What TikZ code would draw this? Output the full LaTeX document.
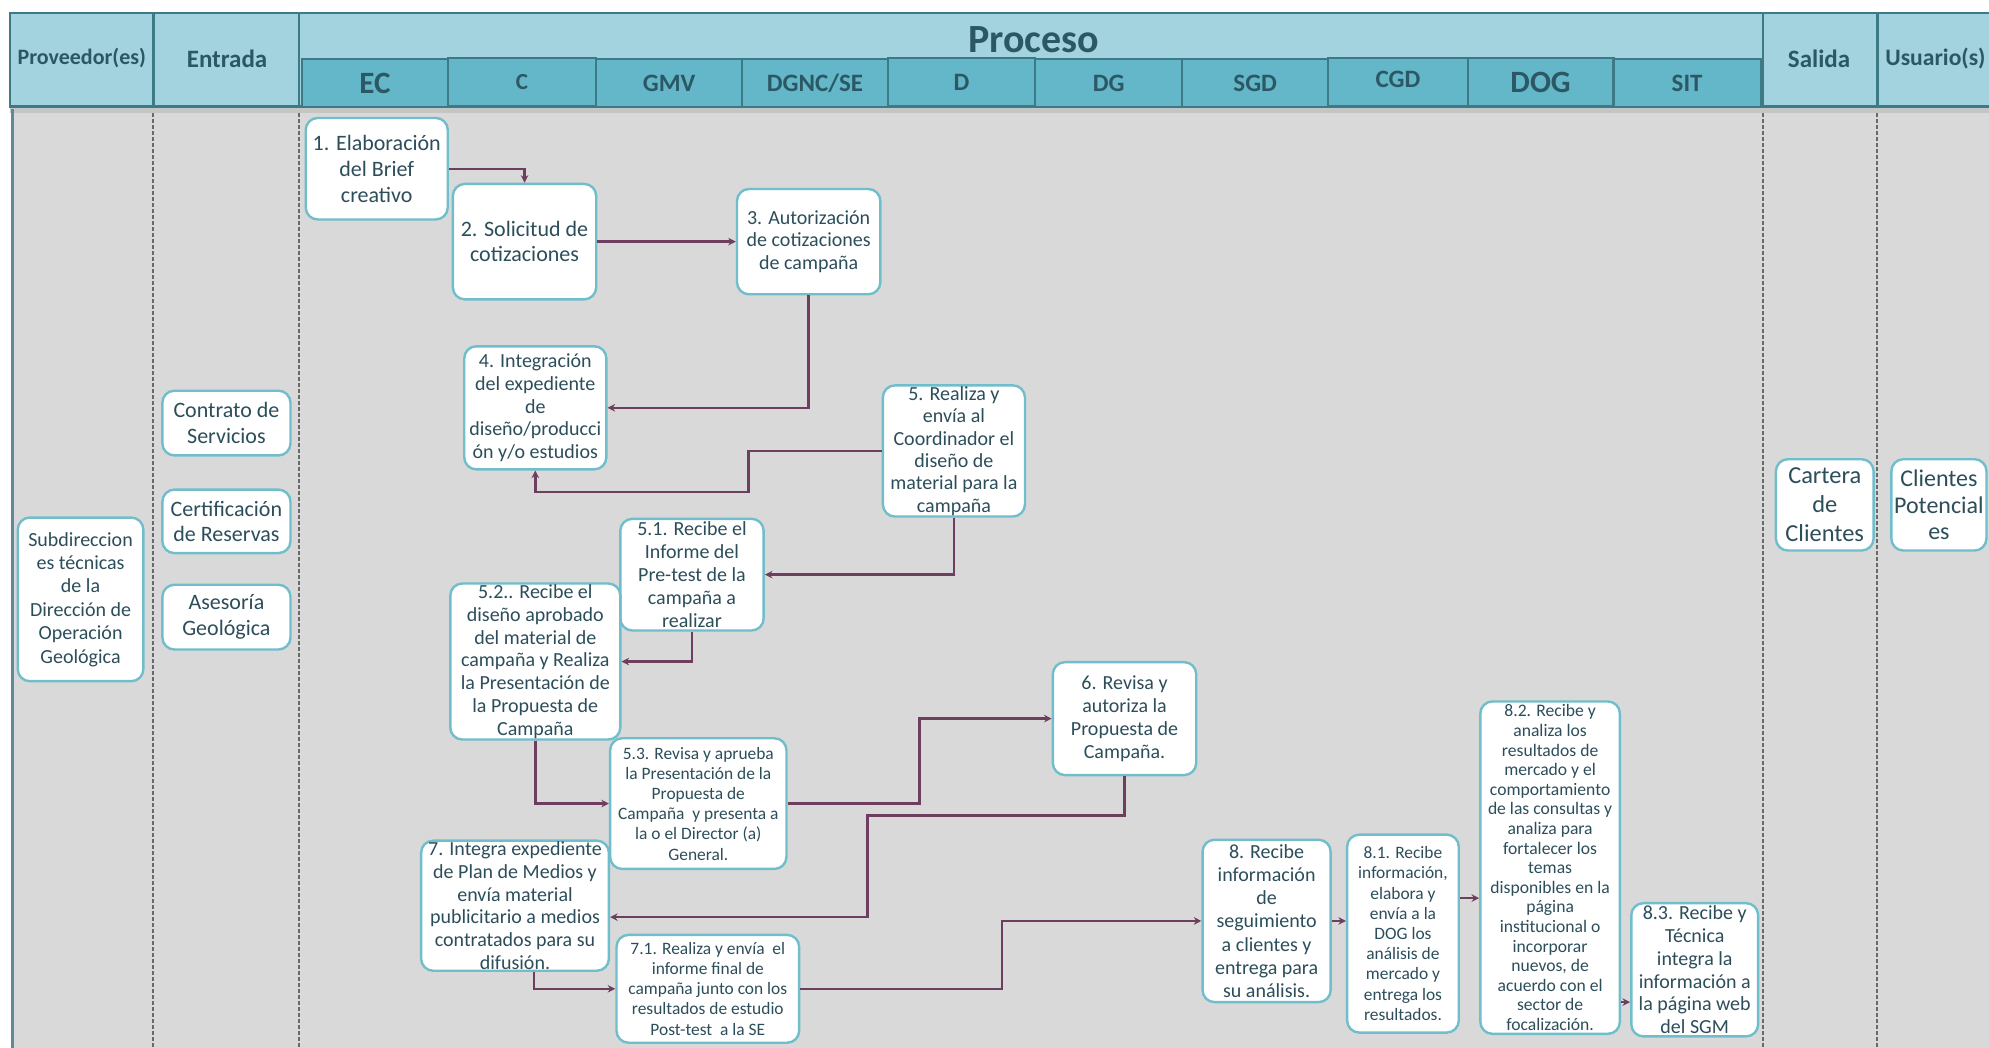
\documentclass[tikz,border=0pt]{standalone}
\usepackage{fontspec}
\setmainfont{Carlito}
\usetikzlibrary{arrows.meta,calc}
\definecolor{hdrlight}{RGB}{162,211,222}
\definecolor{hdrlane}{RGB}{99,183,200}
\definecolor{hdrline}{RGB}{62,122,134}
\definecolor{hdrtext}{RGB}{43,88,100}
\definecolor{bodygray}{RGB}{217,217,217}
\definecolor{shadowgray}{RGB}{196,198,198}
\definecolor{boxline}{RGB}{112,190,204}
\definecolor{boxtext}{RGB}{44,78,90}
\definecolor{connc}{RGB}{110,62,94}
\definecolor{dashc}{RGB}{105,105,105}
\definecolor{leftline}{RGB}{98,138,148}
\newcommand\su{0.63425pt}
\begin{document}
\begin{tikzpicture}[x=0.63425pt,y=-0.63425pt,
  hdrcell/.style={draw=hdrline, fill=hdrlight, line width=1.1pt, inner sep=0pt},
  lanecell/.style={draw=hdrline, fill=hdrlane, line width=1.1pt, inner sep=0pt, minimum height={38*\su}},
  hdrlbl/.style={text=hdrtext, font=\fontsize{11}{13}\selectfont\bfseries, inner sep=0pt},
  lanelbl/.style={text=hdrtext, font=\fontsize{12.5}{14}\selectfont\bfseries, inner sep=0pt},
  lanebig/.style={text=hdrtext, font=\fontsize{15.5}{17}\selectfont\bfseries, inner sep=0pt},
  stepbox/.style={draw=boxline, line width=1.2pt, fill=white, rounded corners=6pt, align=center,
    text=boxtext, inner xsep=1pt, inner ysep=0.5pt, font=\fontsize{10}{11.4}\selectfont},
  bigbox/.style={stepbox, font=\fontsize{11}{13.1}\selectfont},
  smallbox/.style={stepbox, font=\fontsize{8.7}{10.1}\selectfont},
  tinybox/.style={stepbox, font=\fontsize{8.8}{9.8}\selectfont},
  divider/.style={draw=dashc, line width=1pt, dash pattern=on 2pt off 1pt},
  conn/.style={draw=connc, line width=1.2pt, -{Stealth[length=3.8pt,width=3.8pt]}}
]
\useasboundingbox (0,0) rectangle (1568,826);
\clip (0,0) rectangle (1568,826);

% body
\fill[bodygray] (10,86) rectangle (1580,840);
\fill[shadowgray] (8,84) rectangle (1580,89);
\draw[leftline, line width=1.2pt] (10,86) -- (10,840);
\coordinate (d1t) at (121,89); \coordinate (d1b) at (121,840);
\coordinate (d2t) at (236,89); \coordinate (d2b) at (236,840);
\coordinate (d3t) at (1390,89); \coordinate (d3b) at (1390,840);
\coordinate (d4t) at (1480,89); \coordinate (d4b) at (1480,840);
\draw[divider] (d1t) -- (d1b);
\draw[divider] (d2t) -- (d2b);
\draw[divider] (d3t) -- (d3b);
\draw[divider] (d4t) -- (d4b);

% header
\node[hdrcell, minimum width={113*\su}, minimum height={74*\su}] (hprov) at (64.5,47) {};
\node[hdrcell, minimum width={115*\su}, minimum height={74*\su}] (hent) at (178.5,47) {};
\node[hdrcell, minimum width={1154*\su}, minimum height={74*\su}] (hproc) at (813,47) {};
\node[hdrcell, minimum width={90*\su}, minimum height={74*\su}] (hsal) at (1435,47) {};
\node[hdrcell, minimum width={110*\su}, minimum height={74*\su}] (husu) at (1535,47) {};
\node[hdrlbl] (tprov) at (64.5,46) {Proveedor(es)};
\node[hdrlbl, font=\fontsize{12.5}{14}\selectfont\bfseries] (tent) at (179,46) {Entrada};
\node[hdrlbl, font=\fontsize{20}{22}\selectfont\bfseries] (tproc) at (815,31) {Proceso};
\node[hdrlbl, font=\fontsize{12.5}{14}\selectfont\bfseries] (tsal) at (1434,46) {Salida};
\node[hdrlbl, font=\fontsize{11.8}{14}\selectfont\bfseries, anchor=west] (tusu) at (1486,46) {Usuario(s)};

\node[lanecell, minimum width={115*\su}] (lec) at (295.5,65.5) {};
\node[lanecell, minimum width={117*\su}] (lc) at (411.5,65) {};
\node[lanecell, minimum width={115*\su}] (lgmv) at (527.5,65.5) {};
\node[lanecell, minimum width={115*\su}] (ldgnc) at (642.5,65.5) {};
\node[lanecell, minimum width={116*\su}] (ld) at (758,65) {};
\node[lanecell, minimum width={116*\su}] (ldg) at (874,65.5) {};
\node[lanecell, minimum width={115*\su}] (lsgd) at (989.5,65.5) {};
\node[lanecell, minimum width={110*\su}] (lcgd) at (1102,64.5) {};
\node[lanecell, minimum width={115*\su}] (ldog) at (1214.5,65) {};
\node[lanecell, minimum width={116*\su}] (lsit) at (1330,65.5) {};
\node[lanebig] at (lec) {EC};
\node[lanelbl, font=\fontsize{11.5}{13}\selectfont\bfseries] at (lc) {C};
\node[lanelbl] at (lgmv) {GMV};
\node[lanelbl] at (ldgnc) {DGNC/SE};
\node[lanelbl] at (ld) {D};
\node[lanelbl] at (ldg) {DG};
\node[lanelbl] at (lsgd) {SGD};
\node[lanelbl, yshift=1pt] at (lcgd) {CGD};
\node[lanebig] at (ldog) {DOG};
\node[lanelbl] at (lsit) {SIT};

% proveedor / entrada / salida / usuario
\node[stepbox, minimum width={99*\su}, minimum height={129*\su}, font=\fontsize{10}{11.7}\selectfont] (prov) at (63.5,472.5)
  {Subdireccion\\es técnicas\\de la\\Dirección de\\Operación\\Geológica};
\node[stepbox, minimum width={101*\su}, minimum height={51*\su}, font=\fontsize{11}{12.8}\selectfont] (e1) at (178.5,333.5) {Contrato de\\Servicios};
\node[stepbox, minimum width={101*\su}, minimum height={50*\su}, font=\fontsize{11}{12.8}\selectfont] (e2) at (178.5,411) {Certificación\\de Reservas};
\node[stepbox, minimum width={101*\su}, minimum height={51*\su}, font=\fontsize{11}{12.8}\selectfont] (e3) at (178.5,486.5) {Asesoría\\Geológica};
\node[stepbox, minimum width={77*\su}, minimum height={72*\su}, font=\fontsize{12.2}{14.4}\selectfont] (sal) at (1438.5,398) {Cartera\\de\\Clientes};
\node[stepbox, minimum width={75*\su}, minimum height={72*\su}, font=\fontsize{12}{13.4}\selectfont] (usu) at (1528.5,398) {Clientes\\Potencial\\es};

% process steps
\node[bigbox, minimum width={112*\su}, minimum height={80*\su}] (n1) at (297,133) {1. Elaboración\\del Brief\\creativo};
\node[bigbox, minimum width={113*\su}, minimum height={91*\su}, font=\fontsize{11}{12.7}\selectfont] (n2) at (413.5,190.5) {2. Solicitud de\\cotizaciones};
\node[stepbox, minimum width={113*\su}, minimum height={83*\su}] (n3) at (637.5,190.5) {3. Autorización\\de cotizaciones\\de campaña};
\node[stepbox, minimum width={112*\su}, minimum height={97*\su}] (n4) at (422,321.5) {4. Integración\\del expediente\\de\\diseño/producci\\ón y/o estudios};
\node[stepbox, minimum width={112*\su}, minimum height={103*\su}, font=\fontsize{10}{11.2}\selectfont] (n5) at (752,355.5) {5. Realiza y\\envía al\\Coordinador el\\diseño de\\material para la\\campaña};
\node[stepbox, minimum width={113*\su}, minimum height={88*\su}] (n51) at (545.5,453) {5.1. Recibe el\\Informe del\\Pre-test de la\\campaña a\\realizar};
\node[stepbox, minimum width={134*\su}, minimum height={123*\su}] (n52) at (422,521.5) {5.2.. Recibe el\\diseño aprobado\\del material de\\campaña y Realiza\\la Presentación de\\la Propuesta de\\Campaña};
\node[smallbox, minimum width={139*\su}, minimum height={103*\su}] (n53) at (550.5,633.5) {5.3. Revisa y aprueba\\la Presentación de la\\Propuesta de\\Campaña~ y presenta a\\la o el Director (a)\\General.};
\node[stepbox, minimum width={113*\su}, minimum height={89*\su}] (n6) at (886.5,566.5) {6. Revisa y\\autoriza la\\Propuesta de\\Campaña.};
\node[stepbox, minimum width={148*\su}, minimum height={102*\su}] (n7) at (406,714) {7. Integra expediente\\de Plan de Medios y\\envía material\\publicitario a medios\\contratados para su\\difusión.};
\node[smallbox, minimum width={144*\su}, minimum height={85*\su}] (n71) at (558,779.5) {7.1. Realiza y envía~ el\\informe final de\\campaña junto con los\\resultados de estudio\\Post-test~ a la SE};
\node[stepbox, minimum width={101*\su}, minimum height={128*\su}, font=\fontsize{10}{11.6}\selectfont] (n8) at (998.5,726) {8. Recibe\\información\\de\\seguimiento\\a clientes y\\entrega para\\su análisis.};
\node[smallbox, minimum width={88*\su}, minimum height={156*\su}] (n81) at (1106,736) {8.1. Recibe\\información,\\elabora y\\envía a la\\DOG los\\análisis de\\mercado y\\entrega los\\resultados.};
\node[tinybox, minimum width={110*\su}, minimum height={262*\su}] (n82) at (1222,684) {8.2. Recibe y\\analiza los\\resultados de\\mercado y el\\comportamiento\\de las consultas y\\analiza para\\fortalecer los\\temas\\disponibles en la\\página\\institucional o\\incorporar\\nuevos, de\\acuerdo con el\\sector de\\focalización.};
\node[stepbox, minimum width={100*\su}, minimum height={105*\su}] (n83) at (1336,764.5) {8.3. Recibe y\\Técnica\\integra la\\información a\\la página web\\del SGM};

% connectors
\draw[conn] (n1.east) -| (n2.north);
\draw[conn] (n2.east) -- (n3.west);
\draw[conn] (n3.south) |- (n4.east);
\draw[conn] (n5.west) -| (590,388) -| (n4.south);
\draw[conn] (n5.south) |- (n51.east);
\draw[conn] (n51.south) |- (n52.east);
\draw[conn] (n52.south) |- (n53.west);
\draw[conn] (n53.east) -| (725,567) |- (n6.west);
\draw[conn] (n6.south) |- (684,643) |- ($(n7.east)+(0,9)$);
\draw[conn] ($(n7.south)+(15,0)$) |- (n71.west);
\draw[conn] (n71.east) -| (790,726) |- (n8.west);
\draw[conn] (n8.east) -- (n8.east -| n81.west);
\coordinate (p81) at ($(n81.east)+(0,-28)$);
\draw[conn] (p81) -- (p81 -| n82.west);
\coordinate (p82) at ($(n82.east)+(0,106)$);
\draw[conn] (p82) -- (p82 -| n83.west);
\end{tikzpicture}
\end{document}
